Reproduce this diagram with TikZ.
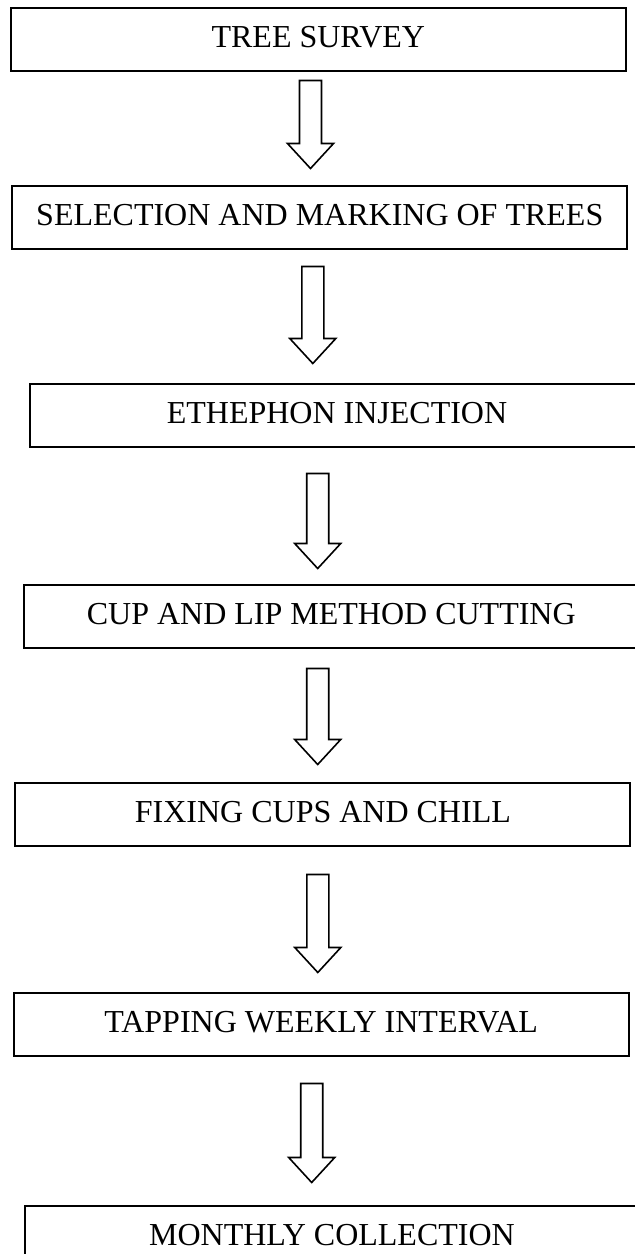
\documentclass[tikz,border=0pt]{standalone}
\usepackage{fontspec}
\setmainfont{Liberation Serif}
\usetikzlibrary{calc}

\tikzset{
  stagebox/.style={draw, line width=1pt, minimum width=307.5pt, minimum height=31.5pt,
    inner sep=0pt, font=\fontsize{16}{19}\selectfont, text height=11pt, text depth=3pt},
  % hollow block arrow, shaft 22px, head 46px wide and 25px long
  blockarrow/.style={line width=0.8pt, line join=miter,
    to path={let \p1=(\tikztostart), \p2=(\tikztotarget) in
      (\x2-5.5pt,\y1) -- (\x2-5.5pt,\y2+12.5pt) -- (\x2-11.5pt,\y2+12.5pt) -- (\p2)
      -- (\x2+11.5pt,\y2+12.5pt) -- (\x2+5.5pt,\y2+12.5pt) -- (\x2+5.5pt,\y1) -- cycle}}
}

\begin{document}
\begin{tikzpicture}[x=0.5pt,y=-0.5pt]
    \clip (0,0) rectangle (635,1254);
    \fill[white] (0,0) rectangle (635,1254);

    % stages
    \node[stagebox] (survey)  at (318.3,39)  {TREE SURVEY};
    \node[stagebox] (select)  at (319.8,217) {SELECTION AND MARKING OF TREES};
    \node[stagebox] (inject)  at (337,415)   {ETHEPHON INJECTION};
    \node[stagebox] (cutting) at (331.3,616) {CUP AND LIP METHOD CUTTING};
    \node[stagebox] (fixing)  at (322.9,814) {FIXING CUPS AND CHILL};
    \node[stagebox] (tapping) at (321.2,1024) {TAPPING WEEKLY INTERVAL};
    \node[stagebox] (collect) at (332,1237)  {MONTHLY COLLECTION};

    % arrows between stages
    \draw[blockarrow] ($(survey.south)+(-7.8,9)$)   to ($(select.north)+(-9.3,-16)$);
    \draw[blockarrow] ($(select.south)+(-7,17)$)    to ($(inject.north)+(-24.2,-19)$);
    \draw[blockarrow] ($(inject.south)+(-19.3,26)$) to ($(cutting.north)+(-13.6,-15)$);
    \draw[blockarrow] ($(cutting.south)+(-13.6,20)$) to ($(fixing.north)+(-5.2,-17)$);
    \draw[blockarrow] ($(fixing.south)+(-5.1,28)$)  to ($(tapping.north)+(-3.4,-19)$);
    \draw[blockarrow] ($(tapping.south)+(-9.5,27)$) to ($(collect.north)+(-20.3,-22)$);
\end{tikzpicture}
\end{document}
